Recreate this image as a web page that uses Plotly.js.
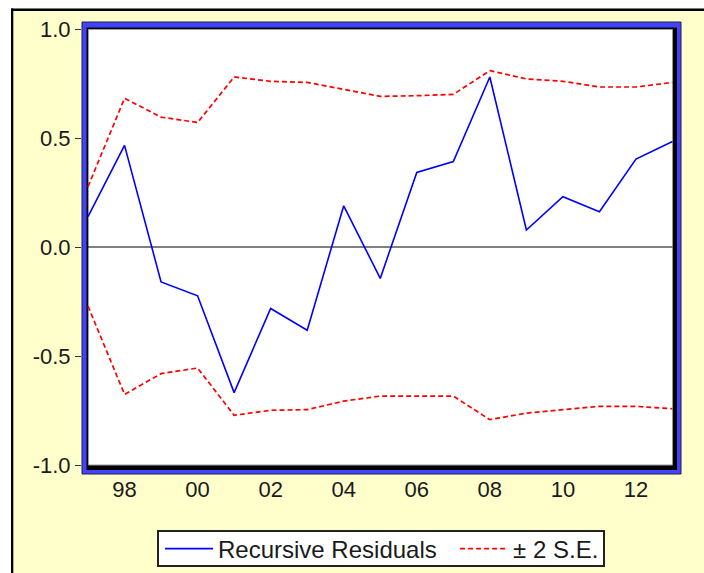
<!DOCTYPE html>
<html>
<head>
<meta charset="utf-8">
<script src="https://cdn.plot.ly/plotly-3.0.1.min.js"></script>
<style>
  html, body { margin: 0; padding: 0; background: #ffffcc; width: 704px; height: 573px; overflow: hidden; }
  #chart { position: absolute; left: 0; top: 0; width: 704px; height: 620px; }
</style>
</head>
<body>
<div id="chart"></div>
<script>
// ---- data ----
const years = [1997, 1998, 1999, 2000, 2001, 2002, 2003, 2004, 2005, 2006, 2007, 2008, 2009, 2010, 2011, 2012, 2013];
const recursiveResiduals = [0.139, 0.466, -0.160, -0.224, -0.668, -0.282, -0.382, 0.189, -0.144, 0.342, 0.392, 0.780, 0.078, 0.231, 0.162, 0.403, 0.484];
const upperSE = [0.277, 0.682, 0.596, 0.571, 0.780, 0.760, 0.755, 0.722, 0.691, 0.694, 0.700, 0.809, 0.771, 0.760, 0.734, 0.734, 0.755];
const lowerSE = [-0.271, -0.676, -0.581, -0.555, -0.772, -0.749, -0.746, -0.707, -0.684, -0.684, -0.684, -0.792, -0.762, -0.746, -0.731, -0.731, -0.742];
const xTickVals = [1998, 2000, 2002, 2004, 2006, 2008, 2010, 2012];
const xTickText = ['98', '00', '02', '04', '06', '08', '10', '12'];
const yTickVals = [-1.0, -0.5, 0.0, 0.5, 1.0];
const yTickText = ['-1.0', '-0.5', '0.0', '0.5', '1.0'];
const seriesNames = ['Recursive Residuals\u00a0\u00a0', '\u00b1 2 S.E.'];

// ---- layout geometry (pixels) ----
const W = 704, H = 620;                      // figure drawn taller; page shows top 573 px
const L = 82, R = 681, T = 22, B = 474;      // outer blue frame = subplot area
// paper = whole figure (zero margins)
const px = p => p / W;
const py = p => 1 - p / H;

// inner white area: x 88..672.5 maps 1997..2013 ; y 29..465 maps 1..-1
const xPerYear = (672.5 - 88) / (years[years.length - 1] - years[0]);
const xr0 = years[0] - (88 - L) / xPerYear;
const xr1 = years[years.length - 1] + (R - 672.5) / xPerYear;
const yPerUnit = (465 - 29) / 2;
const yr0 = -1 - (B - 465) / yPerUnit;
const yr1 = 1 + (29 - T) / yPerUnit;

const FONT = '"Liberation Sans", Arial, sans-serif';
const YELLOW = '#ffffcc';
const BLUE = '#4343ff';

const traces = [
  {
    x: years, y: recursiveResiduals, type: 'scatter', mode: 'lines',
    name: seriesNames[0],
    line: { color: '#0000ff', width: 1.6 }
  },
  {
    x: years, y: upperSE, type: 'scatter', mode: 'lines',
    name: seriesNames[1], legendgroup: 'se',
    line: { color: '#ff0000', width: 1.7, dash: '5px,3px' }
  },
  {
    x: years, y: lowerSE, type: 'scatter', mode: 'lines',
    name: seriesNames[1], legendgroup: 'se', showlegend: false,
    line: { color: '#ff0000', width: 1.7, dash: '5px,3px' }
  }
];

const shapes = [
  // white page strips and black outer border lines
  { type: 'rect', xref: 'paper', yref: 'paper', layer: 'below', x0: 0, x1: 1, y0: py(8.5), y1: 1, fillcolor: '#ffffff', line: { width: 0 } },
  { type: 'rect', xref: 'paper', yref: 'paper', layer: 'below', x0: 0, x1: px(11), y0: 0, y1: 1, fillcolor: '#ffffff', line: { width: 0 } },
  { type: 'rect', xref: 'paper', yref: 'paper', layer: 'below', x0: px(11), x1: 1, y0: py(11), y1: py(8.5), fillcolor: '#000000', line: { width: 0 } },
  { type: 'rect', xref: 'paper', yref: 'paper', layer: 'below', x0: px(11), x1: px(13.3), y0: 0, y1: py(8.5), fillcolor: '#000000', line: { width: 0 } },
  // blue frame
  { type: 'rect', xref: 'paper', yref: 'paper', layer: 'below', x0: px(L), x1: px(R), y0: py(B), y1: py(T), fillcolor: BLUE, line: { color: '#202040', width: 1 } },
  // black shadow
  { type: 'rect', xref: 'paper', yref: 'paper', layer: 'below', x0: px(86.5), x1: px(677), y0: py(470), y1: py(27.5), fillcolor: '#000000', line: { width: 0 } },
  // white plotting area
  { type: 'rect', xref: 'paper', yref: 'paper', layer: 'below', x0: px(88.5), x1: px(672.5), y0: py(465), y1: py(29.5), fillcolor: '#ffffff', line: { color: '#9a9a9a', width: 1 } },
  // legend box
  { type: 'rect', xref: 'paper', yref: 'paper', layer: 'below', x0: px(158), x1: px(604), y0: py(566), y1: py(531), fillcolor: '#ffffff', line: { color: '#222222', width: 2 } },
  // zero reference line
  { type: 'line', xref: 'x', yref: 'y', layer: 'below', x0: years[0], x1: years[years.length - 1], y0: 0, y1: 0, line: { color: '#000000', width: 1.2 } }
];

const layout = {
  width: W, height: H, autosize: false,
  margin: { l: 0, r: 0, t: 0, b: 0, pad: 0 },
  paper_bgcolor: YELLOW,
  plot_bgcolor: 'rgba(0,0,0,0)',
  font: { family: FONT, size: 22, color: '#1a1a1a' },
  showlegend: true,
  xaxis: {
    domain: [px(L), px(R)],
    range: [xr0, xr1], tickmode: 'array', tickvals: xTickVals, ticktext: xTickText,
    showgrid: false, zeroline: false, showline: false, ticks: '',
    tickfont: { family: FONT, size: 22, color: '#1a1a1a' },
    ticklabelstandoff: 0, fixedrange: true
  },
  yaxis: {
    domain: [py(B), py(T)],
    range: [yr0, yr1], tickmode: 'array', tickvals: yTickVals, ticktext: yTickText,
    showgrid: false, zeroline: false, showline: false,
    ticks: 'outside', ticklen: 6, tickwidth: 1, tickcolor: '#333333',
    tickfont: { family: FONT, size: 22, color: '#1a1a1a' },
    fixedrange: true
  },
  legend: {
    orientation: 'h', x: px(160), y: py(526.5), xanchor: 'left', yanchor: 'top',
    bgcolor: 'rgba(0,0,0,0)', borderwidth: 0,
    font: { family: FONT, size: 24, color: '#1a1a1a' },
    itemwidth: 48, traceorder: 'normal'
  },
  shapes: shapes
};

Plotly.newPlot('chart', traces, layout, { staticPlot: true, displayModeBar: false });
</script>
</body>
</html>
